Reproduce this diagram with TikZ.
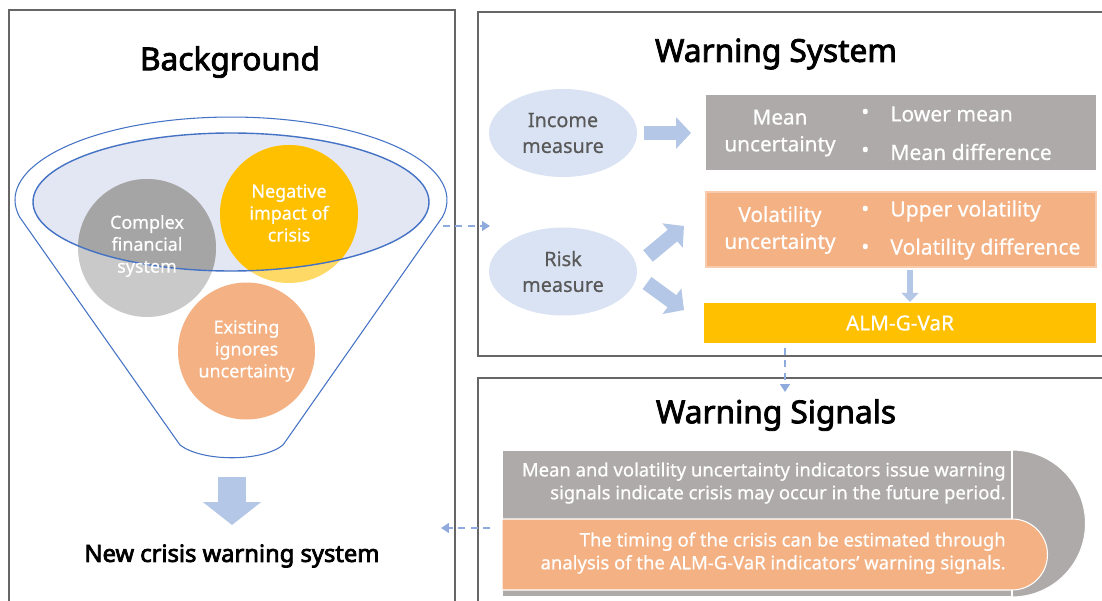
\documentclass[tikz,border=0pt]{standalone}
\usepackage{fontspec}
\setmainfont[FakeBold=0.6]{Noto Sans}
\newfontfamily\semib[FakeBold=2.6]{Noto Sans}
\newfontfamily\boldf[FakeBold=3.2]{Noto Sans}
\usetikzlibrary{arrows.meta,shapes.geometric}
\definecolor{boxgray}{HTML}{AEAAAA}
\definecolor{sorange}{HTML}{F4B183}
\definecolor{sorangeL}{HTML}{F8CBAD}
\definecolor{gold}{HTML}{FFC000}
\definecolor{goldL}{HTML}{FFD966}
\definecolor{cgray}{HTML}{A5A5A5}
\definecolor{cgrayL}{HTML}{C9C9C9}
\definecolor{lav}{HTML}{E3E6F3}
\definecolor{lblue}{HTML}{DAE3F3}
\definecolor{ablue}{HTML}{B4C7E7}
\definecolor{dblue}{HTML}{8FAADC}
\definecolor{eblue}{HTML}{4472C4}
\definecolor{dgray}{HTML}{595959}
\tikzset{
  frame/.style={draw=black!60, line width=0.8pt},
  ttl/.style={font=\semib\fontsize{18}{21}\selectfont, text=black, inner sep=0},
  ctext/.style={font=\fontsize{10.2}{12.5}\selectfont, text=white, align=center, inner sep=0},
  meas/.style={shape=ellipse, fill=lblue, minimum width=2.96cm, minimum height=1.76cm, inner sep=0,
    font=\fontsize{11.3}{14.7}\selectfont, text=dgray, align=center},
  btext/.style={font=\fontsize{11.8}{15.3}\selectfont, text=white, align=center, inner sep=0},
  bullet/.style={font=\fontsize{12}{14}\selectfont, text=white, anchor=west, inner sep=0},
  stext/.style={font=\fontsize{10.5}{13}\selectfont, text=white, align=right, anchor=east, inner sep=0},
  barrow/.style={draw=ablue, line width=8.5pt, -{Triangle[length=8.5pt,width=17.6pt]}},
  darrow/.style={draw=dblue, line width=1.3pt, dash pattern=on 4pt off 3pt, -{Triangle[length=4.5pt,width=5.5pt]}},
}
\begin{document}
\begin{tikzpicture}[x=0.02cm,y=-0.02cm]
\useasboundingbox (0,0) rectangle (1102,601);
\fill[white] (0,0) rectangle (1102,601);

% frames
\draw[frame] (9,601) -- (9,10) -- (455,10) -- (455,601);
\draw[frame] (1102,356) -- (478,356) -- (478,12) -- (1102,12);
\draw[frame] (478,601) -- (478,378) -- (1102,378);

% titles
\node[ttl] (bgT) at (230,62) {Background};
\node[ttl] (wsT) at (776,54) {Warning System};
\node[ttl] (sigT) at (776,415) {Warning Signals};

% funnel
\draw[eblue, line width=0.6pt] (19.6,217) arc[start angle=168.2, end angle=371.8, x radius=216, y radius=83]
  -- (283,445) .. controls (262,462) and (202,462) .. (180,445) -- cycle;
\fill[lav] (231,202) ellipse[x radius=198, y radius=69];
\fill[cgrayL] (147,248) circle[radius=69];
\fill[goldL] (289,214) circle[radius=69];
\begin{scope}
  \clip (231,202) ellipse[x radius=198, y radius=69];
  \fill[cgray] (147,248) circle[radius=69];
  \fill[gold] (289,214) circle[radius=69];
\end{scope}
\fill[sorange] (246.5,351) circle[radius=68.5];
\draw[eblue, line width=0.8pt] (231,202) ellipse[x radius=198, y radius=69];
\node[ctext] (cfs) at (147,246) {Complex\\financial\\system};
\node[ctext] (neg) at (289,213) {Negative\\impact of\\crisis};
\node[ctext] (exi) at (246.5,351) {Existing\\ignores\\uncertainty};

% big down arrow
\coordinate (fb) at (232,477);
\node[font=\boldf\fontsize{13.5}{16}\selectfont, inner sep=0] (ncw) at (232,556) {New crisis warning system};
\draw[draw=ablue, line width=16.4pt, -{Triangle[length=13pt,width=32.3pt]}] (fb) -- (232,525);

% warning system
\node[meas] (inc) at (563,133) {Income\\measure};
\node[meas] (risk) at (563,271.5) {Risk\\measure};

\fill[boxgray] (706,95) rectangle (1096,170);
\node[btext] (mu) at (780,133) {Mean\\uncertainty};
\node[bullet] (b1) at (861,114) {•};
\node[bullet] (l1) at (890,114) {Lower mean};
\node[bullet] (b2) at (861,152) {•};
\node[bullet] (l2) at (890,152) {Mean difference};

\filldraw[fill=sorange, draw=sorangeL, line width=0.6pt] (706,192) rectangle (1096,267);
\node[btext] (vu) at (780,230) {Volatility\\uncertainty};
\node[bullet] (b3) at (861,211) {•};
\node[bullet] (l3) at (890,211) {Upper volatility};
\node[bullet] (b4) at (861,249) {•};
\node[bullet] (l4) at (890,249) {Volatility difference};

\fill[gold] (704,303) rectangle (1096,343);
\node[btext] (alm) at (900,323) {ALM-G-VaR};

\coordinate (a0s) at (644,133);
\coordinate (a0e) at (691,133);
\draw[barrow] (a0s) -- (a0e);
\coordinate (a1s) at (648,256);
\coordinate (a1e) at (684,226);
\draw[barrow] (a1s) -- (a1e);
\coordinate (a2s) at (647,283);
\coordinate (a2e) at (684,310);
\draw[barrow] (a2s) -- (a2e);
\coordinate (a3s) at (910,270);
\coordinate (a3e) at (910,302);
\draw[draw=ablue, line width=3.7pt, -{Triangle[length=5.2pt,width=9.6pt]}] (a3s) -- (a3e);

% dashed connectors
\coordinate (d1s) at (443,226);
\coordinate (d1e) at (490,226);
\draw[darrow] (d1s) -- (d1e);
\coordinate (d2s) at (785,348);
\coordinate (d2e) at (785,392);
\draw[darrow] (d2s) -- (d2e);
\coordinate (d3s) at (490,528);
\coordinate (d3e) at (441,528);
\draw[darrow] (d3s) -- (d3e);

% warning signals
\filldraw[fill=boxgray, draw=white, line width=0.6pt] (1012,450) arc[start angle=-90, end angle=90, radius=73.5] -- cycle;
\filldraw[fill=boxgray, draw=white, line width=0.6pt] (502,450) rectangle (1012,597);
\filldraw[fill=sorange, draw=white, line width=0.6pt] (502,519) -- (1012,519) arc[start angle=-90, end angle=90, radius=35.5] -- (502,590) -- cycle;
\node[stext] (s1) at (1006,483) {Mean and volatility uncertainty indicators issue warning\\signals indicate crisis may occur in the future period.};
\node[stext] (s2) at (1006,553) {The timing of the crisis can be estimated through\\analysis of the ALM-G-VaR indicators' warning signals.};
\end{tikzpicture}
\end{document}
